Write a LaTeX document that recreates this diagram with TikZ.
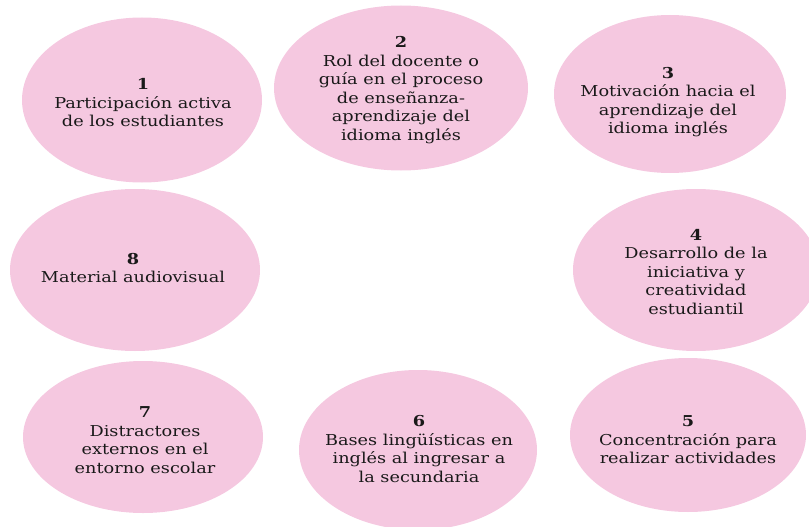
\documentclass[tikz,border=0pt]{standalone}
\usepackage{fontspec}
\setmainfont{DejaVu Serif}[FakeStretch=1.18]
\usetikzlibrary{shapes.geometric}
\definecolor{rosa}{RGB}{245,200,224}
\tikzset{
  blob/.style={ellipse, fill=rosa, draw=none, inner sep=0pt},
  lbl/.style={align=center, font=\fontsize{15}{18.5}\selectfont, text=black!90, inner sep=0pt},
}
\newcommand{\num}[1]{{\bfseries #1}}
\begin{document}
\begin{tikzpicture}[x=1pt,y=-1pt]
\useasboundingbox (0,0) rectangle (809,527);
% ellipses
\node[blob, minimum width=240, minimum height=165] (e1) at (142,100) {};
\node[blob, minimum width=254, minimum height=165] (e2) at (401,88) {};
\node[blob, minimum width=232, minimum height=158] (e3) at (670,94) {};
\node[blob, minimum width=250, minimum height=162] (e8) at (135,270) {};
\node[blob, minimum width=246, minimum height=162] (e4) at (696,270) {};
\node[blob, minimum width=240, minimum height=152] (e7) at (143,437) {};
\node[blob, minimum width=238, minimum height=160] (e6) at (418,450) {};
\node[blob, minimum width=236, minimum height=154] (e5) at (688,435) {};
% labels
\node[lbl] (t1) at (143,103) {\num{1}\\Participación activa\\de los estudiantes};
\node[lbl] (t2) at (401,90) {\num{2}\\Rol del docente o\\guía en el proceso\\de enseñanza-\\aprendizaje del\\idioma inglés};
\node[lbl] (t3) at (668,102) {\num{3}\\Motivación hacia el\\aprendizaje del\\idioma inglés};
\node[lbl] (t8) at (133,268) {\num{8}\\Material audiovisual};
\node[lbl] (t4) at (696,272) {\num{4}\\Desarrollo de la\\iniciativa y\\creatividad\\estudiantil};
\node[lbl] (t7) at (145,440) {\num{7}\\Distractores\\externos en el\\entorno escolar};
\node[lbl] (t6) at (419,449) {\num{6}\\Bases lingüísticas en\\inglés al ingresar a\\la secundaria};
\node[lbl] (t5) at (688,440) {\num{5}\\Concentración para\\realizar actividades};
\end{tikzpicture}
\end{document}
